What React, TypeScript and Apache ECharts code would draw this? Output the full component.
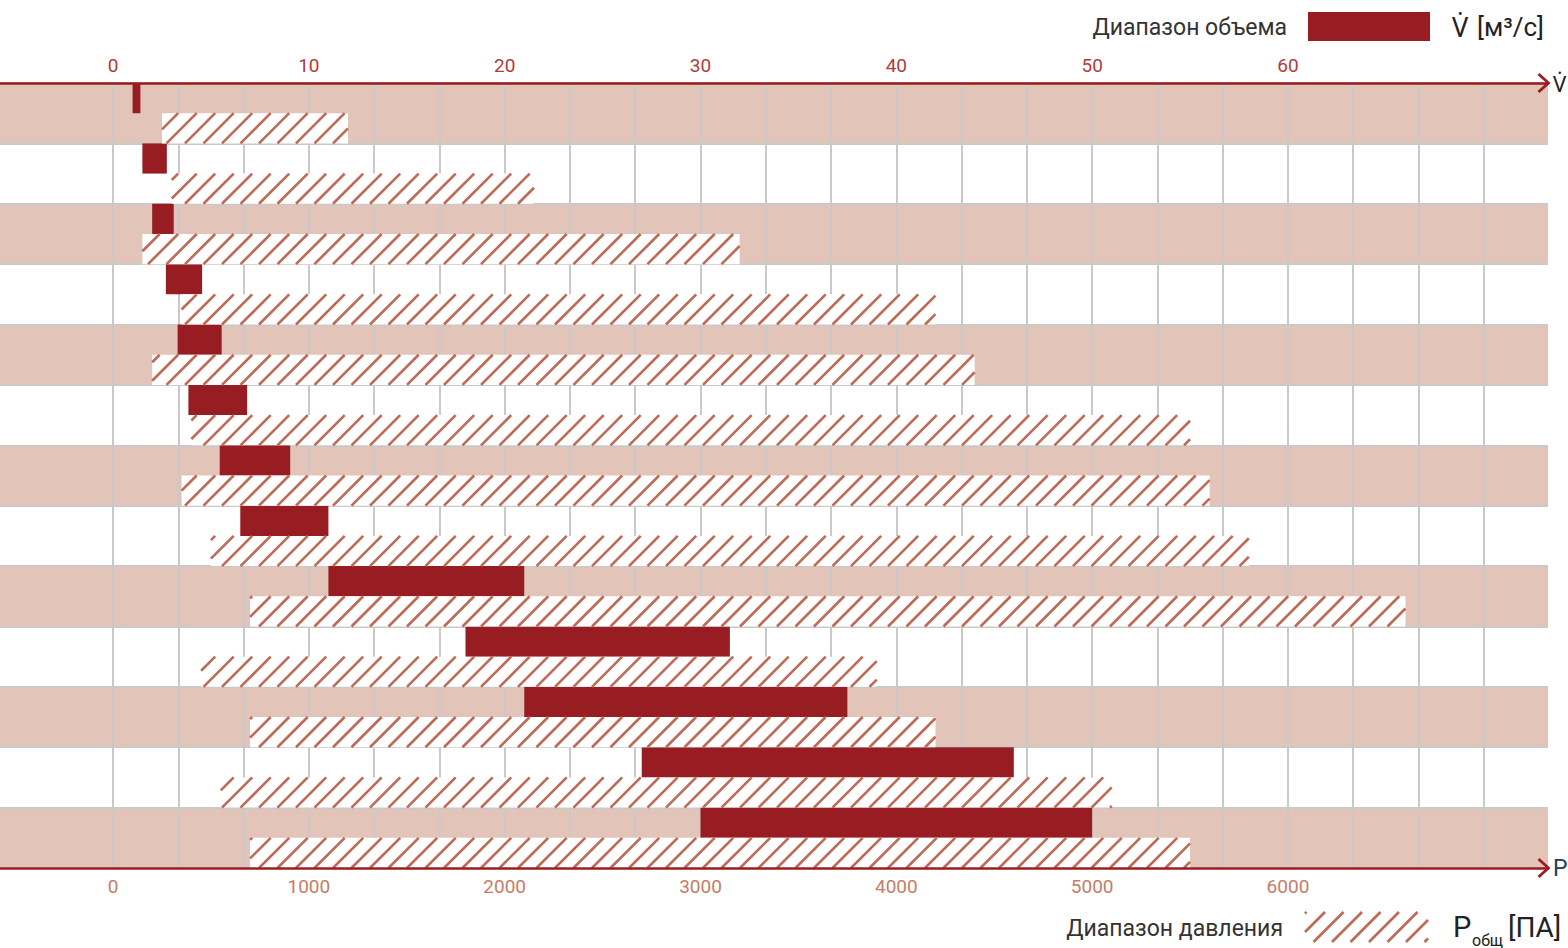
import React, { useEffect, useRef } from "react";
import * as echarts from "echarts";

// ---- data ----
const ROW_LABELS = ["1", "2", "3", "4", "5", "6", "7", "8", "9", "10", "11", "12", "13"];
const VOLUME_MIN = [1.0, 1.5, 2.0, 2.7, 3.3, 3.85, 5.45, 6.5, 11, 18, 21, 27, 30];
const VOLUME_MAX = [1.4, 2.75, 3.1, 4.55, 5.55, 6.85, 9.05, 11, 21, 31.5, 37.5, 46, 50];
const PRESSURE_MIN = [250, 300, 150, 350, 200, 400, 350, 500, 700, 450, 700, 550, 700];
const PRESSURE_MAX = [1200, 2150, 3200, 4200, 4400, 5500, 5600, 5800, 6600, 3900, 4200, 5100, 5500];
const VOLUME_TICKS = [0, 10, 20, 30, 40, 50, 60];
const PRESSURE_TICKS = [0, 1000, 2000, 3000, 4000, 5000, 6000];

const FONT = "Roboto";
const SYM_FONT = "'Noto Sans', 'DejaVu Sans'";
const RED = "#981d22";
const AXIS_RED = "#9b1c21";
const HATCH = "#bd6a57";
const BAND = "#e2c4b8";
const GRID_GRAY = "#c9c9c9";

const CHEVRON = "path://M10 0 L20 11 L18 13 L10 4 L2 13 L0 11 Z";

function hatchSegments(x0: number, y0: number, x1: number, y1: number, spacing: number) {
  const H = y1 - y0;
  const segs: number[][] = [];
  const kStart = Math.floor((x0 - H) / spacing) - 1;
  const kEnd = Math.ceil(x1 / spacing) + 1;
  for (let k = kStart; k <= kEnd; k++) {
    const bx = k * spacing;
    const tmin = Math.max(0, (x0 - bx) / H);
    const tmax = Math.min(1, (x1 - bx) / H);
    if (tmin < tmax) {
      segs.push([bx + H * tmin, y1 - H * tmin, bx + H * tmax, y1 - H * tmax]);
    }
  }
  return segs;
}

export default function App() {
  const ref = useRef<HTMLDivElement>(null);

  useEffect(() => {
    document.body.style.margin = "0";
    if (!ref.current) return;
    const chart = echarts.init(ref.current, null, { renderer: "svg" });

    const volumeData = ROW_LABELS.map((_, i) => [i, VOLUME_MIN[i], VOLUME_MAX[i]]);
    const pressureData = ROW_LABELS.map((_, i) => [i, PRESSURE_MIN[i], PRESSURE_MAX[i]]);

    const volPerPx = 1 / 19.583;
    const volMin = -113 * volPerPx;
    const volMax = (1548 - 113) * volPerPx;

    const legendHatch = hatchSegments(1305, 912, 1428, 942, 18.5).map((s) => ({
      type: "line",
      shape: { x1: s[0], y1: s[1], x2: s[2], y2: s[3] },
      style: { stroke: HATCH, lineWidth: 2.6 },
    }));

    const option: any = {
      animation: false,
      grid: [
        { left: 0, right: 20, top: 83, bottom: 80, outerBoundsMode: "none", containLabel: false },
        { left: 113, right: 19, top: 83, bottom: 80, outerBoundsMode: "none", containLabel: false },
      ],
      xAxis: [
        {
          type: "value",
          gridIndex: 0,
          position: "top",
          min: volMin,
          max: volMax,
          splitNumber: 8,
          z: 5,
          axisLine: {
            show: true,
            lineStyle: { color: AXIS_RED, width: 2.5 },
            symbol: ["none", CHEVRON],
            symbolSize: [20, 13],
            symbolOffset: [0, -4],
          },
          axisTick: { show: false },
          splitLine: { show: false },
          axisLabel: {
            customValues: VOLUME_TICKS,
            formatter: (v: number) => (VOLUME_TICKS.includes(Math.round(v * 1000) / 1000) ? String(v) : ""),
            color: "#b23b38",
            fontSize: 19,
            fontFamily: FONT,
            margin: 8,
          },
          name: "V\u0307",
          nameLocation: "end",
          nameGap: 5,
          nameTextStyle: { color: "#222", fontSize: 22, fontFamily: SYM_FONT },
        },
        {
          type: "value",
          gridIndex: 0,
          position: "bottom",
          min: volMin * 100,
          max: volMax * 100,
          splitNumber: 8,
          z: 5,
          axisLine: {
            show: true,
            lineStyle: { color: AXIS_RED, width: 2.5 },
            symbol: ["none", CHEVRON],
            symbolSize: [20, 13],
            symbolOffset: [0, -4],
          },
          axisTick: { show: false },
          splitLine: { show: false },
          axisLabel: {
            customValues: PRESSURE_TICKS,
            formatter: (v: number) => (PRESSURE_TICKS.includes(Math.round(v)) ? String(Math.round(v)) : ""),
            color: "#c47d69",
            fontSize: 19,
            fontFamily: FONT,
            margin: 9,
          },
          name: "P",
          nameLocation: "end",
          nameGap: 5,
          nameTextStyle: { color: "#1f3d5c", fontSize: 23, fontFamily: FONT },
        },
        {
          type: "value",
          gridIndex: 1,
          min: 0,
          max: 220 / 3,
          interval: 10 / 3,
          z: 1,
          axisLine: { show: false },
          axisTick: { show: false },
          axisLabel: { show: false },
          splitLine: { show: true, showMaxLine: false, lineStyle: { color: GRID_GRAY, width: 2 } },
        },
      ],
      yAxis: [
        {
          type: "category",
          gridIndex: 0,
          data: ROW_LABELS,
          inverse: true,
          z: 0,
          axisLine: { show: false },
          axisTick: { show: false },
          axisLabel: { show: false },
          splitArea: { show: true, areaStyle: { color: [BAND, "#ffffff"] } },
          splitLine: { show: true, lineStyle: { color: GRID_GRAY, width: 2 } },
        },
        { type: "value", gridIndex: 1, show: false },
      ],
      series: [
        {
          name: "Диапазон объема",
          type: "custom",
          xAxisIndex: 0,
          yAxisIndex: 0,
          z: 3,
          data: volumeData,
          encode: { x: [1, 2], y: 0 },
          renderItem: (params: any, api: any) => {
            const cat = api.value(0);
            const s = api.coord([api.value(1), cat]);
            const e = api.coord([api.value(2), cat]);
            const h = api.size([0, 1])[1];
            return {
              type: "rect",
              shape: { x: s[0], y: s[1] - h / 2, width: e[0] - s[0], height: h / 2 },
              style: { fill: RED },
            };
          },
        },
        {
          name: "Диапазон давления",
          type: "custom",
          xAxisIndex: 1,
          yAxisIndex: 0,
          z: 3,
          data: pressureData,
          encode: { x: [1, 2], y: 0 },
          renderItem: (params: any, api: any) => {
            const cat = api.value(0);
            const s = api.coord([api.value(1), cat]);
            const e = api.coord([api.value(2), cat]);
            const h = api.size([0, 1])[1];
            const x0 = s[0];
            const x1 = e[0];
            const y0 = s[1];
            const y1 = s[1] + h / 2;
            const lines = hatchSegments(x0, y0, x1, y1, 18.5).map((sg) => ({
              type: "line",
              shape: { x1: sg[0], y1: sg[1], x2: sg[2], y2: sg[3] },
              style: { stroke: HATCH, lineWidth: 2.6 },
            }));
            return {
              type: "group",
              children: [
                {
                  type: "rect",
                  shape: { x: x0, y: y0, width: x1 - x0, height: y1 - y0 },
                  style: { fill: "#ffffff" },
                },
                ...lines,
              ],
            };
          },
        },
      ],
      graphic: [
        {
          type: "text",
          x: 1287,
          y: 27,
          style: {
            text: "Диапазон объема",
            fill: "#333",
            font: `23px ${FONT}`,
            align: "right",
            verticalAlign: "middle",
          },
        },
        {
          type: "rect",
          shape: { x: 1308, y: 12, width: 122, height: 29 },
          style: { fill: RED },
        },
        {
          type: "text",
          x: 1452,
          y: 26,
          style: {
            text: "V\u0307",
            fill: "#222",
            font: `27px ${SYM_FONT}`,
            align: "left",
            verticalAlign: "middle",
          },
        },
        {
          type: "text",
          x: 1477,
          y: 27,
          style: {
            text: "[м³/с]",
            fill: "#222",
            font: `26px ${FONT}`,
            align: "left",
            verticalAlign: "middle",
          },
        },
        {
          type: "text",
          x: 1283,
          y: 928,
          style: {
            text: "Диапазон давления",
            fill: "#333",
            font: `23px ${FONT}`,
            align: "right",
            verticalAlign: "middle",
          },
        },
        {
          type: "group",
          children: legendHatch,
        },
        {
          type: "text",
          x: 1453,
          y: 927,
          style: { text: "P", fill: "#222", font: `29px ${FONT}`, align: "left", verticalAlign: "middle" },
        },
        {
          type: "text",
          x: 1472,
          y: 940,
          style: { text: "общ", fill: "#222", font: `16px ${FONT}`, align: "left", verticalAlign: "middle" },
        },
        {
          type: "text",
          x: 1508,
          y: 927,
          style: { text: "[ПА]", fill: "#222", font: `28px ${FONT}`, align: "left", verticalAlign: "middle" },
        },
      ],
    };

    chart.setOption(option);
    return () => chart.dispose();
  }, []);

  return <div ref={ref} style={{ width: 1568, height: 948 }} />;
}
